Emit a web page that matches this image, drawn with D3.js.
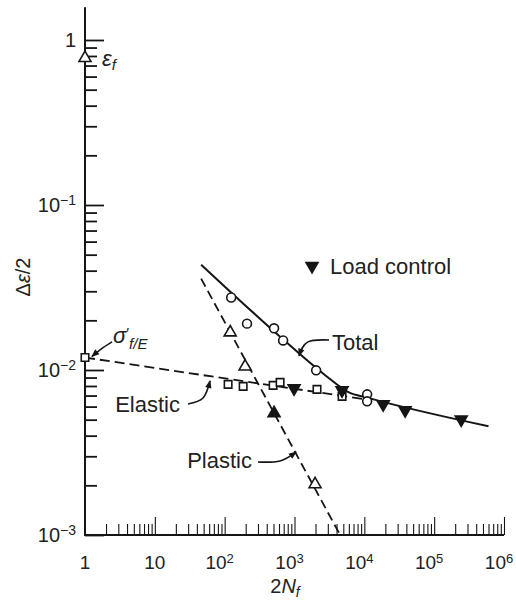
<!DOCTYPE html>
<html>
<head>
<meta charset="utf-8">
<script src="https://cdn.jsdelivr.net/npm/d3@7"></script>
<style>
    body { margin: 0; background: #fff; }
    svg { display: block; }
    text { font-family: "Liberation Sans", Arial, sans-serif; fill: #222; }
</style>
</head>
<body>
<svg class="chart" width="516" height="604"></svg>
<script>
// data: reversals 2N_f against strain amplitude
var totalPts = [[124, 0.0275], [209, 0.0191], [510, 0.0179], [687, 0.0151], [2040, 0.00995], [10970, 0.00712], [10970, 0.00646]];
var elasticPts = [[112, 0.00818], [184, 0.00796], [494, 0.00807], [622, 0.00841], [2100, 0.00763], [4800, 0.00692]];
var plasticPts = [[120, 0.0169], [196, 0.0105], [1970, 0.00203]];
var plasticFilled = [[510, 0.00546]];
var loadPts = [[987, 0.00774], [4800, 0.00753], [18600, 0.0062], [38400, 0.0057], [244000, 0.00502]];
var sigmaPt = [1, 0.0119];
var epsPt = [1, 0.778];

// fitted lines as drawn
var totalLine = [[46, 0.0435], [690, 0.0153], [2750, 0.0093], [6000, 0.00732], [11000, 0.0068], [600000, 0.00456]];
var elasticLine = [[1, 0.0119], [10300, 0.00664]];
var plasticLine = [[46, 0.0358], [4500, 0.001]];

// axes
var xMajor = [1, 10, 1e2, 1e3, 1e4, 1e5, 1e6];
var xTickLabels = [['1', ''], ['10', ''], ['10', '2'], ['10', '3'], ['10', '4'], ['10', '5'], ['10', '6']];
var yMajor = [1e-3, 1e-2, 1e-1, 1];
var yTickLabels = [['10', '\u22123'], ['10', '\u22122'], ['10', '\u22121'], ['1', '']];
var yTop = 1.58;

// annotation anchors, in data units
var sigmaLeader = [[2.44, 0.0148], [1.7, 0.0134], [1.26, 0.0121]];
var totalLeader = [[3120, 0.0152], [1560, 0.0148], [1160, 0.0122]];
var elasticLeader = [[29.9, 0.00622], [48.9, 0.00676], [61.7, 0.00858]];
var plasticLeader = [[300, 0.00277], [620, 0.00281], [1050, 0.00318]];

(function () {
    var svg = d3.select('.chart');
    var x = d3.scaleLog().domain([1, 1e6]).range([85, 504]);
    var y = d3.scaleLog().domain([1e-3, 1]).range([535, 40]);
    var ink = '#151515';

    // minor tick values, 2..9 of each decade
    function minors(lo, hi) {
        var out = [];
        for (var d = lo; d < hi; d *= 10)
            for (var k = 2; k <= 9; k++) out.push(k * d);
        return out;
    }

    svg.append('defs').append('marker')
        .attr('id', 'arrow')
        .attr('markerUnits', 'userSpaceOnUse')
        .attr('markerWidth', 10).attr('markerHeight', 10)
        .attr('refX', 7).attr('refY', 0)
        .attr('viewBox', '-1 -5 10 10')
        .attr('orient', 'auto')
        .append('path')
            .attr('d', 'M0,-3.2L8,0L0,3.2Z')
            .attr('fill', ink);

    // y axis, ticks pointing into the plot
    var gy = svg.append('g').attr('transform', 'translate(' + x(1) + ',0)');
    gy.append('g').call(d3.axisRight(y).tickValues(minors(1e-3, 1)).tickSize(12).tickFormat(''));
    gy.append('g').call(d3.axisRight(y).tickValues(yMajor).tickSize(19).tickFormat(''));
    gy.selectAll('.domain').remove();
    gy.selectAll('.tick line').attr('stroke', ink).attr('stroke-width', 1.8);

    // x axis, ticks pointing up
    var gx = svg.append('g').attr('transform', 'translate(0,' + y(1e-3) + ')');
    gx.append('g').call(d3.axisTop(x).tickValues(minors(1, 1e6)).tickSize(11).tickFormat(''));
    gx.append('g').call(d3.axisTop(x).tickValues(xMajor.slice(1)).tickSize(18).tickFormat(''));
    gx.selectAll('.domain').remove();
    gx.selectAll('.tick line').attr('stroke', ink).attr('stroke-width', 1.1);

    svg.append('path')
        .attr('d', 'M' + x(1) + ',' + y(yTop) + 'V' + y(1e-3) + 'H' + x(1e6))
        .attr('fill', 'none').attr('stroke', ink).attr('stroke-width', 2);

    // tick labels
    yMajor.forEach(function (v, i) {
        var t = svg.append('text')
            .attr('x', x(1) - 9).attr('y', y(v)).attr('dy', '0.36em')
            .attr('text-anchor', 'end').style('font-size', '20px')
            .text(yTickLabels[i][0]);
        if (yTickLabels[i][1])
            t.append('tspan').attr('dy', '-0.5em').style('font-size', '14px').text(yTickLabels[i][1]);
    });
    xMajor.forEach(function (v, i) {
        var sup = xTickLabels[i][1];
        var t = svg.append('text')
            .attr('x', x(v) - (sup ? 5 : 0)).attr('y', 569)
            .attr('text-anchor', 'middle').style('font-size', '19px')
            .text(xTickLabels[i][0]);
        if (sup)
            t.append('tspan').attr('dy', '-0.5em').style('font-size', '13px').text(sup);
    });

    // axis titles
    var xt = svg.append('text').attr('x', 285).attr('y', 593).attr('text-anchor', 'middle').style('font-size', '20px');
    xt.append('tspan').text('2');
    xt.append('tspan').style('font-style', 'italic').text('N');
    xt.append('tspan').attr('dy', '0.3em').style('font-style', 'italic').style('font-size', '14px').text('f');

    var yt = svg.append('text').attr('transform', 'translate(30,277) rotate(-90)').attr('text-anchor', 'middle').style('font-size', '20px');
    yt.append('tspan').text('\u0394');
    yt.append('tspan').style('font-style', 'italic').text('\u03b5');
    yt.append('tspan').text('/2');

    // lines
    var line = d3.line().x(function (d) { return x(d[0]); }).y(function (d) { return y(d[1]); });
    svg.append('path').datum(elasticLine).attr('d', line)
        .attr('fill', 'none').attr('stroke', ink).attr('stroke-width', 1.8).attr('stroke-dasharray', '10,5');
    svg.append('path').datum(plasticLine).attr('d', line)
        .attr('fill', 'none').attr('stroke', ink).attr('stroke-width', 1.8).attr('stroke-dasharray', '9,5');
    svg.append('path').datum(totalLine).attr('d', line.curve(d3.curveMonotoneX))
        .attr('fill', 'none').attr('stroke', ink).attr('stroke-width', 2);
    line.curve(d3.curveLinear);

    // leaders
    var leader = d3.line().curve(d3.curveNatural).x(function (d) { return x(d[0]); }).y(function (d) { return y(d[1]); });
    [sigmaLeader, totalLeader, elasticLeader, plasticLeader].forEach(function (pts) {
        svg.append('path').datum(pts).attr('d', leader)
            .attr('fill', 'none').attr('stroke', ink).attr('stroke-width', 1.6)
            .attr('marker-end', 'url(#arrow)');
    });

    // markers
    function marks(data, type, size, fill, rot) {
        svg.append('g').selectAll('path')
            .data(data)
            .enter().append('path')
                .attr('d', d3.symbol().type(type).size(size))
                .attr('transform', function (d) {
                    return 'translate(' + x(d[0]) + ',' + y(d[1]) + ')' + (rot ? ' rotate(' + rot + ')' : '');
                })
                .attr('fill', fill).attr('stroke', ink).attr('stroke-width', 1.6);
    }
    marks(totalPts, d3.symbolCircle, 62, '#fff');
    marks(elasticPts.concat([sigmaPt]), d3.symbolSquare, 56, '#fff');
    marks(plasticPts.concat([epsPt]), d3.symbolTriangle, 62, '#fff');
    marks(plasticFilled, d3.symbolTriangle, 62, ink);
    marks(loadPts, d3.symbolTriangle, 62, ink, 180);

    // legend
    marks([[1782, 0.0427]], d3.symbolTriangle, 62, ink, 180);
    svg.append('text').attr('x', x(3226)).attr('y', y(0.0382)).style('font-size', '22px').text('Load control');

    // curve labels
    svg.append('text').attr('x', x(3444)).attr('y', y(0.0132)).style('font-size', '22px').text('Total');
    svg.append('text').attr('x', x(22.9)).attr('y', y(0.00556)).attr('text-anchor', 'end').style('font-size', '22px').text('Elastic');
    svg.append('text').attr('x', x(246)).attr('y', y(0.00255)).attr('text-anchor', 'end').style('font-size', '22px').text('Plastic');

    // intercept labels
    var et = svg.append('text').attr('x', x(1.75)).attr('y', y(0.696)).style('font-size', '22px');
    et.append('tspan').style('font-style', 'italic').text('\u03b5');
    et.append('tspan').attr('dy', '0.3em').style('font-style', 'italic').style('font-size', '15px').text('f');

    var st = svg.append('text').attr('x', x(2.52)).attr('y', y(0.01458)).style('font-size', '22px');
    st.append('tspan').style('font-style', 'italic').text('\u03c3');
    st.append('tspan').attr('dy', '-0.35em').style('font-size', '15px').text('\u2032');
    st.append('tspan').attr('dy', '0.75em').style('font-style', 'italic').style('font-size', '15px').text('f/E');
}());
</script>
</body>
</html>
